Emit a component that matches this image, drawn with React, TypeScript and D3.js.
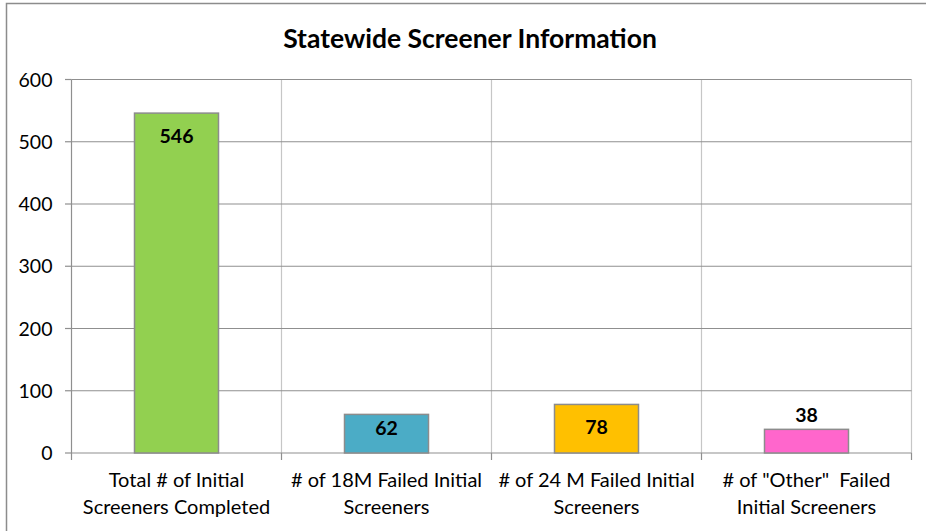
import { useEffect, useRef } from 'react'
import * as d3 from 'd3'

const TITLE = 'Statewide Screener Information'
const CATEGORIES = [
  ['Total # of Initial', 'Screeners Completed'],
  ['# of 18M Failed Initial', 'Screeners'],
  ['# of 24 M Failed Initial', 'Screeners'],
  ['# of "Other"  Failed', 'Initial Screeners'],
]
const VALUES = [546, 62, 78, 38]
const COLORS = ['#92D050', '#4BACC6', '#FFC000', '#FF66CC']
const Y_TICKS = [0, 100, 200, 300, 400, 500, 600]

const FONT = 'Lato, "Open Sans", sans-serif'

export default function App() {
  const svgRef = useRef<SVGSVGElement>(null)

  useEffect(() => {
    if (!svgRef.current) return
    const W = 926
    const H = 531
    const margin = { top: 79.5, right: 14.5, bottom: 78, left: 71.5 }
    const width = W - margin.left - margin.right
    const height = H - margin.top - margin.bottom

    const svg = d3.select(svgRef.current)
    svg.selectAll('*').remove()
    svg.attr('width', W).attr('height', H)

    // outer chart border (runs off right/bottom edge)
    svg.append('rect')
      .attr('x', 6.5).attr('y', 3.5)
      .attr('width', W + 20).attr('height', H + 20)
      .attr('fill', '#fff')
      .attr('stroke', '#8c8c8c')
      .attr('stroke-width', 1.5)

    svg.append('text')
      .attr('x', 470).attr('y', 47.5)
      .attr('text-anchor', 'middle')
      .style('font-family', FONT)
      .style('font-weight', '700')
      .style('font-size', '26.5px')
      .text(TITLE)

    const g = svg.append('g').attr('transform', `translate(${margin.left},${margin.top})`)

    const x = d3.scaleBand<number>()
      .domain(VALUES.map((_, i) => i))
      .range([0, width])
      .paddingInner(0.6)
      .paddingOuter(0.3)
    const step = x.step()

    const y = d3.scaleLinear().domain([0, 600]).range([height, 0])

    // vertical category separators
    for (let i = 1; i <= VALUES.length; i++) {
      g.append('line')
        .attr('x1', i * step).attr('x2', i * step)
        .attr('y1', 0).attr('y2', height)
        .attr('stroke', '#c6c6c6').attr('stroke-width', 1.2)
    }

    // horizontal gridlines + y ticks
    Y_TICKS.forEach((t) => {
      if (t > 0) {
        g.append('line')
          .attr('x1', 0).attr('x2', width)
          .attr('y1', y(t)).attr('y2', y(t))
          .attr('stroke', '#8f8f8f').attr('stroke-width', 1.2)
      }
      g.append('line')
        .attr('x1', -6.5).attr('x2', 0)
        .attr('y1', y(t)).attr('y2', y(t))
        .attr('stroke', '#8f8f8f').attr('stroke-width', 1.2)
      g.append('text')
        .attr('x', -19).attr('y', y(t) + 7)
        .attr('text-anchor', 'end')
        .style('font-family', FONT)
        .style('font-size', '19.5px')
        .text(t)
    })

    // axes
    g.append('line')
      .attr('x1', 0).attr('x2', 0).attr('y1', 0).attr('y2', height)
      .attr('stroke', '#8f8f8f').attr('stroke-width', 1.2)
    g.append('line')
      .attr('x1', 0).attr('x2', width).attr('y1', height).attr('y2', height)
      .attr('stroke', '#8f8f8f').attr('stroke-width', 1.2)
    for (let i = 0; i <= VALUES.length; i++) {
      g.append('line')
        .attr('x1', i * step).attr('x2', i * step)
        .attr('y1', height).attr('y2', height + 7)
        .attr('stroke', '#8f8f8f').attr('stroke-width', 1.2)
    }

    // bars
    VALUES.forEach((v, i) => {
      g.append('rect')
        .attr('x', x(i)!).attr('y', y(v))
        .attr('width', x.bandwidth()).attr('height', height - y(v))
        .attr('fill', COLORS[i])
        .attr('stroke', '#8c8c8c').attr('stroke-width', 1.5)

      const barH = height - y(v)
      const ly = barH > 30 ? Math.min(y(v) + 30, height - 18) : y(v) - 7
      g.append('text')
        .attr('x', x(i)! + x.bandwidth() / 2).attr('y', ly)
        .attr('text-anchor', 'middle')
        .style('font-family', FONT)
        .style('font-weight', '700')
        .style('font-size', '19.5px')
        .text(v)
    })

    // category labels
    CATEGORIES.forEach((lines, i) => {
      const t = g.append('text')
        .attr('text-anchor', 'middle')
        .style('font-family', FONT)
        .style('font-size', '20px')
      lines.forEach((ln, j) => {
        t.append('tspan')
          .attr('x', i * step + step / 2)
          .attr('y', height + 34 + j * 26.5)
          .style('white-space', 'pre')
          .text(ln)
      })
    })
  }, [])

  return (
    <div style={{ position: 'absolute', left: 0, top: 0 }}>
      <svg ref={svgRef} style={{ display: 'block' }} />
    </div>
  )
}
